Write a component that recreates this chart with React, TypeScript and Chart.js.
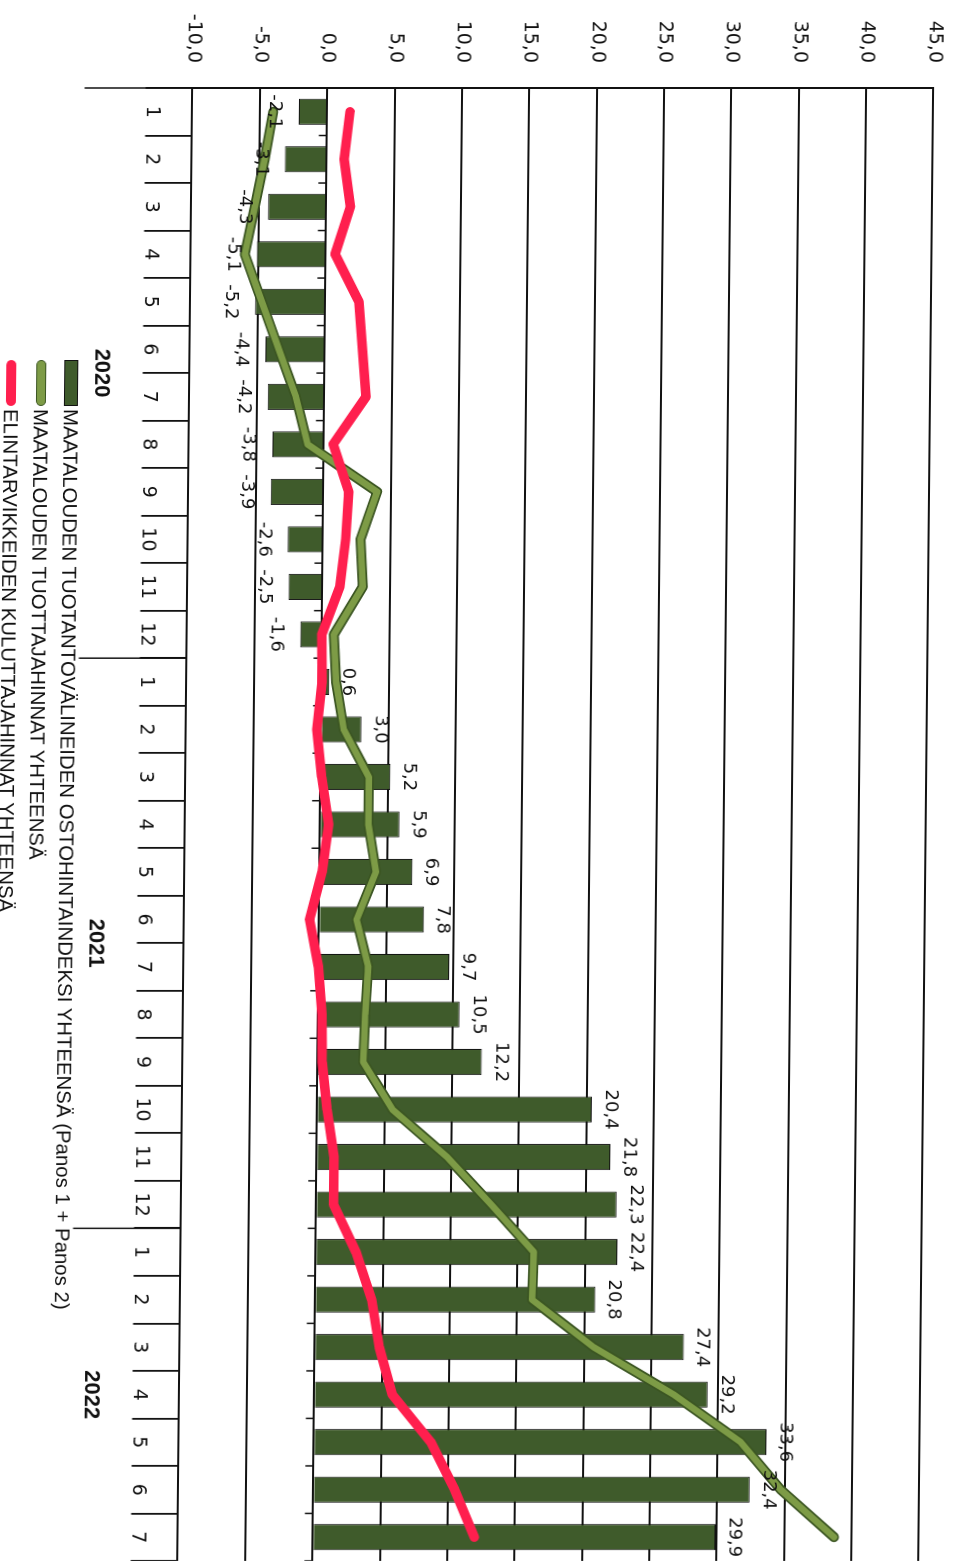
import React, { useEffect, useRef } from 'react';
import { Chart, registerables } from 'chart.js';

Chart.register(...registerables);

// ---- data ----
const monthLabels = ['1','2','3','4','5','6','7','8','9','10','11','12','1','2','3','4','5','6','7','8','9','10','11','12','1','2','3','4','5','6','7'];
const yearLabels = ['2020', '2021', '2022'];
const yearLengths = [12, 12, 7];

// MAATALOUDEN TUOTANTOVÄLINEIDEN OSTOHINTAINDEKSI YHTEENSÄ (bars)
const inputPriceIndex = [-2.1, -3.1, -4.3, -5.1, -5.2, -4.4, -4.2, -3.8, -3.9, -2.6, -2.5, -1.6,
  0.6, 3.0, 5.2, 5.9, 6.9, 7.8, 9.7, 10.5, 12.2, 20.4, 21.8, 22.3,
  22.4, 20.8, 27.4, 29.2, 33.6, 32.4, 29.9];
// MAATALOUDEN TUOTTAJAHINNAT YHTEENSÄ (green line)
const producerPrices = [-4.0, -4.6, -5.3, -6.0, -4.7, -3.4, -2.1, -1.2, 4.0, 2.8, 3.0, 0.9,
  1.1, 1.7, 3.6, 3.6, 4.2, 2.8, 3.7, 3.5, 3.4, 5.6, 9.7, 13.0,
  16.2, 16.1, 20.7, 26.7, 31.7, 34.7, 38.7];
// ELINTARVIKKEIDEN KULUTTAJAHINNAT YHTEENSÄ (red line)
const consumerPrices = [1.7, 1.3, 1.8, 0.7, 2.5, 2.8, 3.1, 0.7, 1.9, 1.7, 1.3, 0.0,
  0.05, -0.3, 0.1, 0.65, 0.2, -0.7, 0.0, 0.3, 0.35, 0.75, 1.3, 1.3,
  3.0, 4.2, 4.8, 5.8, 8.7, 10.5, 12.0];

const axisMin = -10;
const axisMax = 45;
const axisStep = 5;

const seriesNames = [
  'MAATALOUDEN TUOTANTOVÄLINEIDEN OSTOHINTAINDEKSI YHTEENSÄ (Panos 1 + Panos 2)',
  'MAATALOUDEN TUOTTAJAHINNAT YHTEENSÄ',
  'ELINTARVIKKEIDEN KULUTTAJAHINNAT YHTEENSÄ',
];

const BAR_COLOR = '#3f5b2b';
const GREEN = '#7d9b46';
const GREEN_EDGE = '#3b5522';
const RED = '#ff1f4e';
const INK = '#111111';

const fmt = (v: number) => v.toFixed(1).replace('.', ',');

const decorPlugin = {
  id: 'decor',
  beforeDatasetsDraw(chart: any) {
    const { ctx, chartArea, scales } = chart;
    const y = scales.y;
    const n = monthLabels.length;
    const step = (chartArea.right - chartArea.left) / n;
    const y0 = y.getPixelForValue(0);
    ctx.save();
    ctx.strokeStyle = INK;
    ctx.lineWidth = 1.5;
    for (let i = 0; i <= n; i++) {
      const bx = chartArea.left + i * step;
      ctx.beginPath();
      ctx.moveTo(bx, y0);
      ctx.lineTo(bx, y0 + 8);
      ctx.stroke();
    }
    ctx.restore();
  },
  afterDatasetsDraw(chart: any) {
    const { ctx, chartArea } = chart;
    const n = monthLabels.length;
    const step = (chartArea.right - chartArea.left) / n;
    ctx.save();
    // bar value labels
    const meta = chart.getDatasetMeta(3);
    ctx.fillStyle = INK;
    ctx.font = '18px "DejaVu Sans"';
    ctx.textAlign = 'center';
    meta.data.forEach((bar: any, i: number) => {
      const v = inputPriceIndex[i];
      if (v >= 0) {
        ctx.textBaseline = 'alphabetic';
        ctx.fillText(fmt(v), bar.x, bar.y - 14);
      } else {
        ctx.textBaseline = 'top';
        ctx.fillText(fmt(v), bar.x, bar.y + 15);
      }
    });
    // year groups
    ctx.strokeStyle = INK;
    ctx.lineWidth = 1.5;
    let start = 0;
    ctx.font = 'bold 22px "Liberation Sans"';
    ctx.textBaseline = 'middle';
    yearLengths.forEach((len, k) => {
      const bx = chartArea.left + start * step;
      ctx.beginPath();
      ctx.moveTo(bx, chartArea.bottom);
      ctx.lineTo(bx, chartArea.bottom + 108);
      ctx.stroke();
      const cx = chartArea.left + (start + len / 2) * step;
      ctx.fillText(yearLabels[k], cx, chartArea.bottom + 88);
      start += len;
    });
    ctx.restore();
  },
};

export default function App() {
  const ref = useRef<HTMLCanvasElement | null>(null);
  useEffect(() => {
    if (!ref.current) return;
    const chart = new Chart(ref.current, {
      type: 'bar',
      data: {
        labels: monthLabels,
        datasets: [
          {
            type: 'line', label: seriesNames[2], data: consumerPrices,
            borderColor: RED, borderWidth: 9.5, pointRadius: 0, tension: 0,
            borderJoinStyle: 'round', borderCapStyle: 'round', order: 0,
          } as any,
          {
            type: 'line', label: seriesNames[1], data: producerPrices,
            borderColor: GREEN, borderWidth: 6.5, pointRadius: 0, tension: 0,
            borderJoinStyle: 'round', borderCapStyle: 'round', order: 1,
          } as any,
          {
            type: 'line', label: seriesNames[1] + ' edge', data: producerPrices,
            borderColor: GREEN_EDGE, borderWidth: 10, pointRadius: 0, tension: 0,
            borderJoinStyle: 'round', borderCapStyle: 'round', order: 2,
          } as any,
          {
            type: 'bar', label: seriesNames[0], data: inputPriceIndex,
            backgroundColor: BAR_COLOR, borderColor: INK, borderWidth: 1,
            barPercentage: 0.55, categoryPercentage: 1, order: 3,
          } as any,
        ],
      },
      options: {
        responsive: false,
        animation: false,
        devicePixelRatio: 1,
        layout: { padding: { top: 23.5, left: 0, right: 0, bottom: 0 } },
        plugins: { legend: { display: false }, tooltip: { enabled: false } },
        scales: {
          x: {
            type: 'category',
            offset: true,
            grid: { display: true, drawOnChartArea: false, drawTicks: true, tickLength: 47, color: INK, lineWidth: 1.8, offset: true },
            border: { display: true, color: INK, width: 2 },
            ticks: { font: { family: 'DejaVu Sans', size: 19 }, color: INK, padding: -18, maxRotation: 0, autoSkip: false },
            afterFit: (s: any) => { s.height = 193.5; },
          },
          y: {
            min: axisMin, max: axisMax,
            ticks: { stepSize: axisStep, callback: (v: any) => fmt(Number(v)), font: { family: 'DejaVu Sans', size: 19 }, color: INK, padding: 0 },
            grid: { color: INK, lineWidth: 2, drawTicks: true, tickLength: 25, tickColor: 'rgba(0,0,0,0)' },
            border: { display: true, color: INK, width: 2 },
            afterFit: (s: any) => { s.width = 88; },
          },
        },
      } as any,
      plugins: [decorPlugin],
    });
    return () => chart.destroy();
  }, []);

  const legendRows = [
    { name: seriesNames[0], cy: 883, marker: { height: 14, background: BAR_COLOR, border: `1px solid ${INK}`, borderRadius: 0 } },
    { name: seriesNames[1], cy: 913, marker: { height: 10, background: GREEN, border: `1.5px solid ${GREEN_EDGE}`, borderRadius: 5 } },
    { name: seriesNames[2], cy: 943, marker: { height: 10, background: RED, border: 'none', borderRadius: 5 } },
  ];

  return (
    <div style={{ position: 'absolute', left: 0, top: 0, width: 958, height: 1561, overflow: 'hidden', background: '#fff' }}>
      <div
        style={{
          position: 'absolute', left: 0, top: 0, width: 1561, height: 958,
          transformOrigin: '0 0',
          transform: 'skewX(-0.58deg) translate(958px, 0px) rotate(90deg)',
        }}
      >
        <canvas ref={ref} width={1561} height={958} style={{ width: 1561, height: 958, display: 'block' }} />
        {legendRows.map((r) => (
          <div key={r.name} style={{ position: 'absolute', left: 360, top: r.cy - 12, height: 24, display: 'flex', alignItems: 'center', whiteSpace: 'nowrap' }}>
            <div style={{ width: 46, boxSizing: 'border-box', ...r.marker }} />
            <span style={{ marginLeft: 3, fontFamily: '"Liberation Sans", Arial, sans-serif', fontSize: 20.4, color: INK, lineHeight: 1 }}>{r.name}</span>
          </div>
        ))}
      </div>
    </div>
  );
}
